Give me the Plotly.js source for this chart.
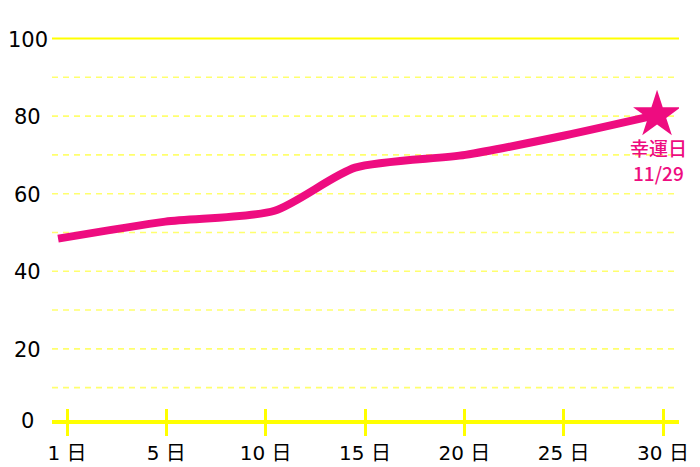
<!DOCTYPE html>
<html>
<head>
<meta charset="utf-8">
<script src="https://cdn.plot.ly/plotly-3.0.1.min.js"></script>
<style>html,body{margin:0;padding:0;background:#fff;}#chart{width:700px;height:467px;}</style>
</head>
<body>
<div id="chart"></div>
<script>
// tick positions (equally spaced) and their labels
const tickPos = [0, 1, 2, 3, 4, 5, 6];
const tickLabels = ['1 日', '5 日', '10 日', '15 日', '20 日', '25 日', '30 日'];
// line series (x in tick-position units, y values)
const lineX = [-0.09, 0.99, 2.09, 2.90, 4.01, 5.01, 5.94];
const lineY = [48.4, 52.8, 55.6, 66.7, 70.0, 75.0, 80.3];
// highlighted point labels
const starLabels = ['幸運日', '11/29'];
// y axis
const yTickVals = [0, 20, 40, 60, 80, 100];
const yTickText = ['0', '20', '40', '60', '80', '100'];
const yGridDashed = [10, 20, 30, 40, 50, 60, 70, 80, 90];
const yGridSolid = [100];

const PINK = '#ee0c80';
const YELLOW = '#ffff00';
const PALE = '#ffff6e';
const FONT = 'DejaVu Sans, Noto Sans CJK JP, sans-serif';
const yRange = [1.66, 101.16];
const xRange = [-0.151, 6.161];

const traces = [
  {x: lineX, y: lineY, type: 'scatter', mode: 'lines',
   line: {color: PINK, width: 8, shape: 'spline', smoothing: 0.7},
   hoverinfo: 'skip', showlegend: false},
  {x: [lineX[lineX.length-1]], y: [lineY[lineY.length-1]], type: 'scatter', mode: 'markers',
   marker: {symbol: 'star', size: 36, color: PINK, line: {width: 0}},
   hoverinfo: 'skip', showlegend: false},
  {x: [], y: [], xaxis: 'x2', type: 'scatter', showlegend: false}
];

const shapes = [];
yGridDashed.forEach(v => shapes.push({type: 'line', xref: 'paper', yref: 'y', x0: 0, x1: 1, y0: v, y1: v,
  line: {color: PALE, width: 1.6, dash: '6px,5px'}, layer: 'below'}));
yGridSolid.forEach(v => shapes.push({type: 'line', xref: 'paper', yref: 'y', x0: 0, x1: 1, y0: v, y1: v,
  line: {color: YELLOW, width: 2.2}, layer: 'below'}));

const annotations = yTickVals.map((v, i) => ({
  xref: 'paper', yref: 'y', x: -0.0383, y: Math.max(v, yRange[0]), text: yTickText[i],
  showarrow: false, xanchor: 'center', yanchor: 'middle', yshift: -1,
  font: {family: FONT, size: 21, color: '#000'}
}));
starLabels.forEach((t, i) => annotations.push({
  xref: 'x', yref: 'y', x: lineX[lineX.length-1], y: lineY[lineY.length-1], text: t,
  showarrow: false, xanchor: 'center', yanchor: 'middle', yshift: -33 - 25 * i, xshift: 1,
  borderpad: 0,
  font: {family: 'Noto Sans CJK JP, sans-serif', size: 19, color: PINK, weight: 500}
}));

const layout = {
  width: 700, height: 467,
  margin: {l: 52, r: 21, t: 34, b: 47, pad: 0},
  paper_bgcolor: '#fff', plot_bgcolor: '#fff',
  showlegend: false,
  xaxis: {range: xRange, tickmode: 'array', tickvals: tickPos, ticktext: tickLabels,
    showgrid: false, zeroline: false, showline: true, linecolor: YELLOW, linewidth: 4,
    ticks: 'outside', ticklen: 12, tickwidth: 3, tickcolor: YELLOW,
    tickfont: {family: FONT, size: 20, color: '#000'}, fixedrange: true},
  xaxis2: {range: xRange, overlaying: 'x', anchor: 'y', side: 'bottom', tickmode: 'array', tickvals: tickPos,
    showticklabels: false, showgrid: false, zeroline: false, showline: false,
    ticks: 'inside', ticklen: 11, tickwidth: 3, tickcolor: YELLOW},
  yaxis: {range: yRange, showgrid: false, zeroline: false, showline: false, showticklabels: false, ticks: ''},
  shapes: shapes,
  annotations: annotations
};

Plotly.newPlot('chart', traces, layout, {displayModeBar: false, staticPlot: true});
</script>
</body>
</html>
